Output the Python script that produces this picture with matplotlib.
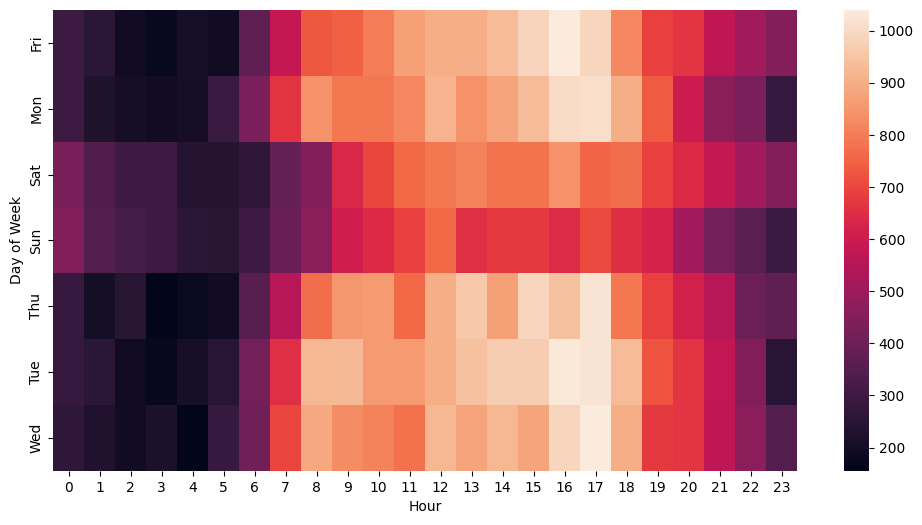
import matplotlib
matplotlib.use('Agg')
import matplotlib.pyplot as plt
import pandas as pd
import seaborn as sns

days = ['Fri', 'Mon', 'Sat', 'Sun', 'Thu', 'Tue', 'Wed']
hours = list(range(24))

fri = [300, 255, 195, 175, 210, 195, 375, 585, 730, 745, 800, 870, 900, 900, 930, 985, 1040, 990, 820, 685, 665, 570, 510, 450]
mon = [300, 225, 205, 195, 205, 290, 430, 660, 840, 790, 790, 820, 910, 840, 880, 930, 1000, 1010, 900, 735, 600, 460, 430, 285]
sat = [425, 340, 300, 300, 240, 240, 265, 385, 450, 635, 700, 760, 790, 810, 780, 780, 840, 750, 770, 685, 640, 585, 510, 450]
sun = [445, 345, 320, 300, 255, 245, 295, 395, 460, 610, 640, 690, 760, 655, 675, 675, 645, 705, 650, 625, 515, 415, 365, 290]
thu = [285, 200, 245, 155, 180, 195, 360, 555, 770, 850, 860, 760, 900, 960, 870, 990, 940, 1020, 790, 685, 615, 555, 400, 375]
tue = [285, 255, 190, 170, 210, 250, 420, 655, 920, 925, 860, 860, 900, 940, 970, 970, 1030, 1020, 930, 725, 665, 580, 445, 250]
wed = [265, 230, 195, 220, 155, 285, 410, 695, 890, 830, 810, 775, 920, 880, 920, 880, 990, 1040, 900, 675, 665, 570, 465, 345]

df = pd.DataFrame([fri, mon, sat, sun, thu, tue, wed], index=days, columns=hours)

W, H = 922, 525
fig = plt.figure(figsize=(W / 100, H / 100), dpi=100)
ax = fig.add_axes([53 / W, 1 - 471 / H, 744 / W, 461 / H])
cax = fig.add_axes([844 / W, 1 - 471 / H, 25 / W, 461 / H])

sns.heatmap(df, ax=ax, cbar_ax=cax)
ax.set_xlabel('Hour')
ax.set_ylabel('Day of Week')

fig.savefig('out.png', dpi=100)
